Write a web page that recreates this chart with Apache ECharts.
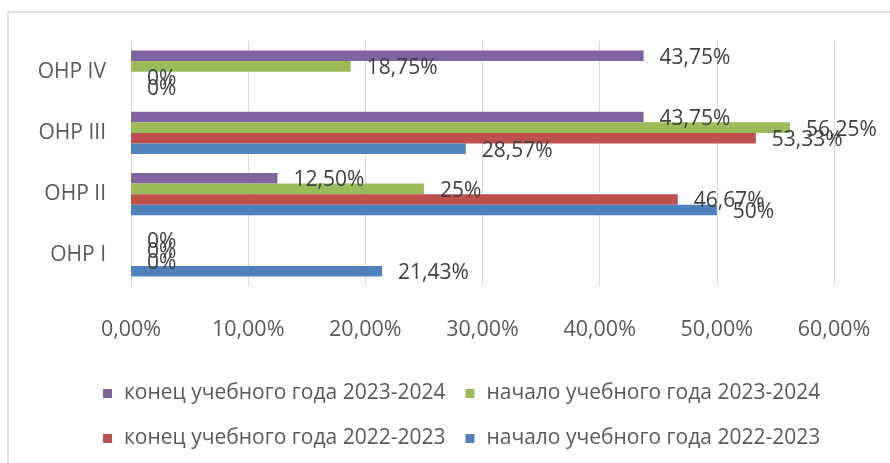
<!DOCTYPE html>
<html>
<head>
<meta charset="utf-8">
<script src="https://cdn.jsdelivr.net/npm/echarts@6/dist/echarts.min.js"></script>
<style>html,body{margin:0;padding:0;background:#fff}#c{width:890px;height:463px}</style>
</head>
<body>
<div id="c"></div>
<script>
const categories = ['ОНР I', 'ОНР II', 'ОНР III', 'ОНР IV'];
const seriesNames = [
  'конец учебного года 2023-2024',
  'начало учебного года 2023-2024',
  'конец учебного года 2022-2023',
  'начало учебного года 2022-2023'
];
const endY2023 = [0, 12.50, 43.75, 43.75];
const startY2023 = [0, 25, 56.25, 18.75];
const endY2022 = [0, 46.67, 53.33, 0];
const startY2022 = [21.43, 50, 28.57, 0];
const xTicks = [0, 10, 20, 30, 40, 50, 60];
const colors = ['#8064A2', '#9BBB59', '#C0504D', '#4F81BD'];

const FONT = '"Open Sans", Lato, sans-serif';
const values = [endY2023, startY2023, endY2022, startY2022];

function fmtLabel(v) {
  return (Number.isInteger(v) ? String(v) : v.toFixed(2).replace('.', ',')) + '%';
}

const legendStyle = {
  icon: 'rect', itemWidth: 9, itemHeight: 9, itemGap: 20,
  padding: 0,
  selectedMode: false,
  textStyle: { color: '#595959', fontFamily: FONT, fontSize: 21, padding: [0, 0, 0, 7] }
};

const chart = echarts.init(document.getElementById('c'));
chart.setOption({
  animation: false,
  graphic: [{
    type: 'rect',
    shape: { x: 8, y: 12, width: 920, height: 500 },
    style: { fill: 'none', stroke: '#d9d9d9', lineWidth: 1.5 },
    silent: true
  }],
  grid: { left: 131, right: 56, top: 41, bottom: 177 },
  xAxis: {
    type: 'value',
    min: xTicks[0],
    max: xTicks[xTicks.length - 1],
    interval: 10,
    axisLine: { show: false },
    axisTick: { show: false },
    splitLine: { show: true, lineStyle: { color: '#d9d9d9', width: 1 } },
    axisLabel: {
      margin: 33,
      color: '#595959',
      fontFamily: FONT,
      fontSize: 21.5,
      formatter: v => v.toFixed(2).replace('.', ',') + '%'
    }
  },
  yAxis: {
    type: 'category',
    data: categories,
    axisLine: { show: false },
    axisTick: { show: false },
    axisLabel: { margin: 25, color: '#595959', fontFamily: FONT, fontSize: 21 }
  },
  legend: [
    Object.assign({ data: [seriesNames[0], seriesNames[1]], left: 103, top: 383 }, legendStyle),
    Object.assign({ data: [seriesNames[2], seriesNames[3]], left: 103, top: 428 }, legendStyle)
  ],
  series: values.map((arr, i) => ({
    type: 'bar',
    name: seriesNames[i],
    data: arr,
    itemStyle: { color: colors[i] },
    barGap: '0%',
    barCategoryGap: '31%',
    label: {
      show: true,
      position: 'right',
      distance: 16,
      offset: [0, 2],
      color: '#404040',
      fontFamily: FONT,
      fontSize: 21,
      formatter: p => fmtLabel(p.value)
    }
  }))
});
</script>
</body>
</html>
